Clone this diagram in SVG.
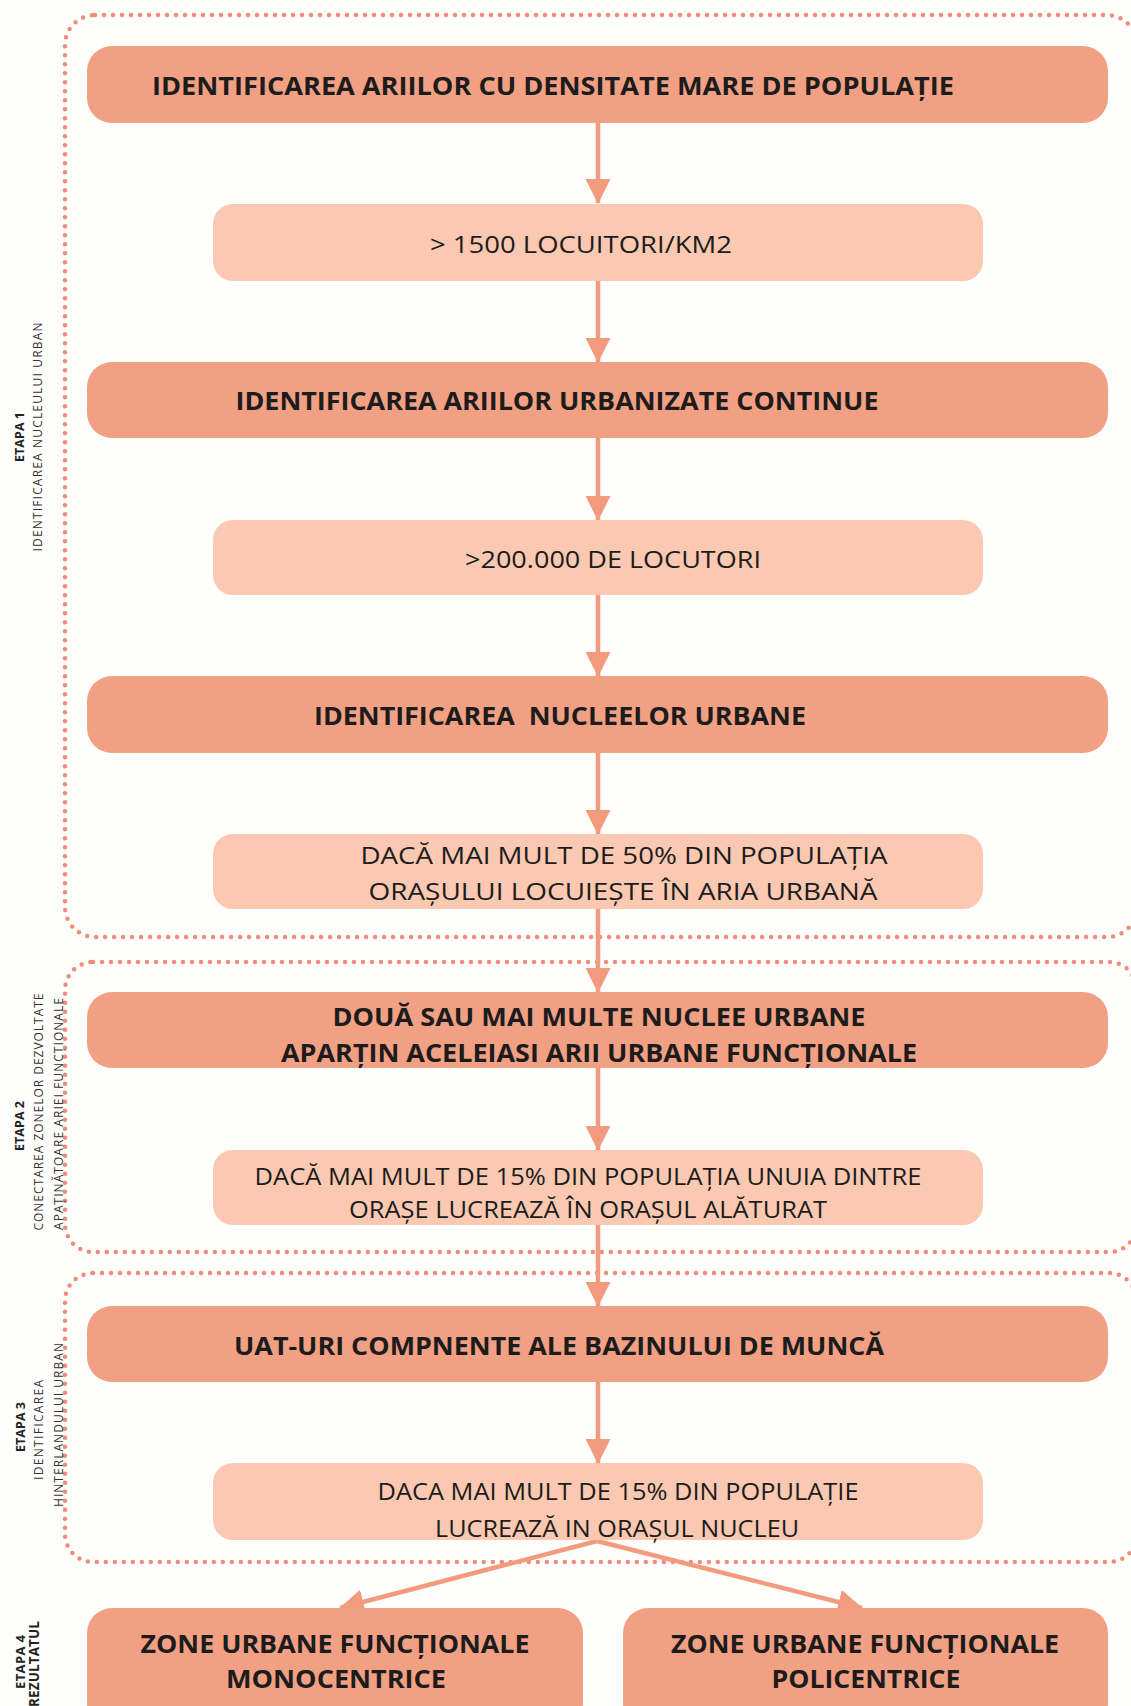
<svg xmlns="http://www.w3.org/2000/svg" width="1131" height="1706" viewBox="0 0 1131 1706">
  <style>
    .frame { fill: none; stroke: #F08C78; stroke-width: 4.5; stroke-dasharray: 0 9; stroke-linecap: round; }
    .dark { fill: #F2A083; }
    .light { fill: #FBC9B1; }
    .conn { stroke: #F29B7E; stroke-width: 4.5; fill: none; }
    .tb { font-family: "Open Sans", "Liberation Sans", sans-serif; font-weight: bold; font-size: 25px; fill: #1C1C1C; text-anchor: middle; white-space: pre; }
    .tr { font-family: "Open Sans", "Liberation Sans", sans-serif; font-size: 24px; fill: #1C1C1C; text-anchor: middle; }
    .sb { font-family: "Open Sans", "Liberation Sans", sans-serif; font-weight: bold; font-size: 12.5px; fill: #222; text-anchor: middle; }
    .sr { font-family: "Open Sans", "Liberation Sans", sans-serif; font-size: 12px; fill: #333; text-anchor: middle; }
  </style>
  <defs>
    <marker id="head" markerUnits="userSpaceOnUse" markerWidth="25" markerHeight="25" refX="24" refY="12.5" orient="auto">
      <path d="M0,0 L25,12.5 L0,25 z" fill="#F29B7E"/>
    </marker>
  </defs>

  <rect width="1131" height="1706" fill="#FEFEFC"/>

  <!-- stage frames -->
  <g id="frames">
    <rect class="frame" x="65" y="15" width="1072" height="922" rx="30"/>
    <rect class="frame" x="65" y="962" width="1072" height="290" rx="28"/>
    <rect class="frame" x="65" y="1273" width="1072" height="289" rx="28"/>
  </g>

  <!-- stage labels -->
  <g id="stage-labels">
    <text class="sb" transform="translate(24,437) rotate(-90)" textLength="50">ETAPA 1</text>
    <text class="sr" transform="translate(42,437) rotate(-90)" textLength="229">IDENTIFICAREA NUCLEULUI URBAN</text>

    <text class="sb" transform="translate(24,1126) rotate(-90)" textLength="50">ETAPA 2</text>
    <text class="sr" transform="translate(43,1112) rotate(-90)" textLength="237">CONECTAREA ZONELOR DEZVOLTATE</text>
    <text class="sr" transform="translate(63,1114) rotate(-90)" textLength="232">APAȚINĂTOARE ARIEI FUNCȚIONALE</text>

    <text class="sb" transform="translate(25,1427) rotate(-90)" textLength="50">ETAPA 3</text>
    <text class="sr" transform="translate(43,1430) rotate(-90)" textLength="100">IDENTIFICAREA</text>
    <text class="sr" transform="translate(63,1425) rotate(-90)" textLength="164">HINTERLANDULUI URBAN</text>

    <text class="sb" transform="translate(25,1662) rotate(-90)" style="font-size:13px" textLength="54">ETAPA 4</text>
    <text class="sb" transform="translate(39,1664) rotate(-90)" style="font-size:13.5px" textLength="86">REZULTATUL</text>
  </g>

  <!-- connectors -->
  <g id="connectors">
    <line class="conn" x1="598" y1="123" x2="598" y2="203" marker-end="url(#head)"/>
    <line class="conn" x1="598" y1="281" x2="598" y2="362" marker-end="url(#head)"/>
    <line class="conn" x1="598" y1="438" x2="598" y2="520" marker-end="url(#head)"/>
    <line class="conn" x1="598" y1="595" x2="598" y2="676" marker-end="url(#head)"/>
    <line class="conn" x1="598" y1="753" x2="598" y2="834" marker-end="url(#head)"/>
    <line class="conn" x1="598" y1="909" x2="598" y2="992" marker-end="url(#head)"/>
    <line class="conn" x1="598" y1="1068" x2="598" y2="1150" marker-end="url(#head)"/>
    <line class="conn" x1="598" y1="1225" x2="598" y2="1306" marker-end="url(#head)"/>
    <line class="conn" x1="598" y1="1382" x2="598" y2="1463" marker-end="url(#head)"/>
    <line class="conn" x1="597" y1="1541" x2="340" y2="1608" marker-end="url(#head)"/>
    <line class="conn" x1="597" y1="1541" x2="862" y2="1608" marker-end="url(#head)"/>
  </g>

  <!-- stage 1 -->
  <g id="n1">
    <rect class="dark" x="87" y="46" width="1021" height="77" rx="25"/>
    <text class="tb" x="553" y="95" textLength="802" lengthAdjust="spacingAndGlyphs">IDENTIFICAREA ARIILOR CU DENSITATE MARE DE POPULAȚIE</text>
  </g>
  <g id="n2">
    <rect class="light" x="213" y="204" width="770" height="77" rx="20"/>
    <text class="tr" x="581" y="253" textLength="302" lengthAdjust="spacingAndGlyphs">&gt; 1500 LOCUITORI/KM2</text>
  </g>
  <g id="n3">
    <rect class="dark" x="87" y="362" width="1021" height="76" rx="25"/>
    <text class="tb" x="557" y="410" textLength="643" lengthAdjust="spacingAndGlyphs">IDENTIFICAREA ARIILOR URBANIZATE CONTINUE</text>
  </g>
  <g id="n4">
    <rect class="light" x="213" y="520" width="770" height="75" rx="20"/>
    <text class="tr" x="613" y="568" textLength="296" lengthAdjust="spacingAndGlyphs">&gt;200.000 DE LOCUTORI</text>
  </g>
  <g id="n5">
    <rect class="dark" x="87" y="676" width="1021" height="77" rx="25"/>
    <text class="tb" x="560" y="725" textLength="492" lengthAdjust="spacingAndGlyphs">IDENTIFICAREA  NUCLEELOR URBANE</text>
  </g>
  <g id="n6">
    <rect class="light" x="213" y="834" width="770" height="75" rx="20"/>
    <text class="tr" x="624" y="864" textLength="527" lengthAdjust="spacingAndGlyphs">DACĂ MAI MULT DE 50% DIN POPULAȚIA</text>
    <text class="tr" x="623" y="900" textLength="509" lengthAdjust="spacingAndGlyphs">ORAȘULUI LOCUIEȘTE ÎN ARIA URBANĂ</text>
  </g>

  <!-- stage 2 -->
  <g id="n7">
    <rect class="dark" x="87" y="992" width="1021" height="76" rx="25"/>
    <text class="tb" x="599" y="1026" textLength="533" lengthAdjust="spacingAndGlyphs">DOUĂ SAU MAI MULTE NUCLEE URBANE</text>
    <text class="tb" x="599" y="1062" textLength="636" lengthAdjust="spacingAndGlyphs">APARȚIN ACELEIASI ARII URBANE FUNCȚIONALE</text>
  </g>
  <g id="n8">
    <rect class="light" x="213" y="1150" width="770" height="75" rx="20"/>
    <text class="tr" x="588" y="1185" textLength="667" lengthAdjust="spacingAndGlyphs">DACĂ MAI MULT DE 15% DIN POPULAȚIA UNUIA DINTRE</text>
    <text class="tr" x="588" y="1218" textLength="478" lengthAdjust="spacingAndGlyphs">ORAȘE LUCREAZĂ ÎN ORAȘUL ALĂTURAT</text>
  </g>

  <!-- stage 3 -->
  <g id="n9">
    <rect class="dark" x="87" y="1306" width="1021" height="76" rx="25"/>
    <text class="tb" x="559" y="1355" textLength="650" lengthAdjust="spacingAndGlyphs">UAT-URI COMPNENTE ALE BAZINULUI DE MUNCĂ</text>
  </g>
  <g id="n10">
    <rect class="light" x="213" y="1463" width="770" height="77" rx="20"/>
    <text class="tr" x="618" y="1500" textLength="481" lengthAdjust="spacingAndGlyphs">DACA MAI MULT DE 15% DIN POPULAȚIE</text>
    <text class="tr" x="617" y="1537" textLength="364" lengthAdjust="spacingAndGlyphs">LUCREAZĂ IN ORAȘUL NUCLEU</text>
  </g>

  <!-- stage 4 -->
  <g id="n11">
    <rect class="dark" x="87" y="1608" width="496" height="120" rx="25"/>
    <text class="tb" x="335" y="1653" textLength="389" lengthAdjust="spacingAndGlyphs">ZONE URBANE FUNCȚIONALE</text>
    <text class="tb" x="336" y="1688" textLength="220" lengthAdjust="spacingAndGlyphs">MONOCENTRICE</text>
  </g>
  <g id="n12">
    <rect class="dark" x="623" y="1608" width="485" height="120" rx="25"/>
    <text class="tb" x="865" y="1653" textLength="388" lengthAdjust="spacingAndGlyphs">ZONE URBANE FUNCȚIONALE</text>
    <text class="tb" x="866" y="1688" textLength="189" lengthAdjust="spacingAndGlyphs">POLICENTRICE</text>
  </g>
</svg>
